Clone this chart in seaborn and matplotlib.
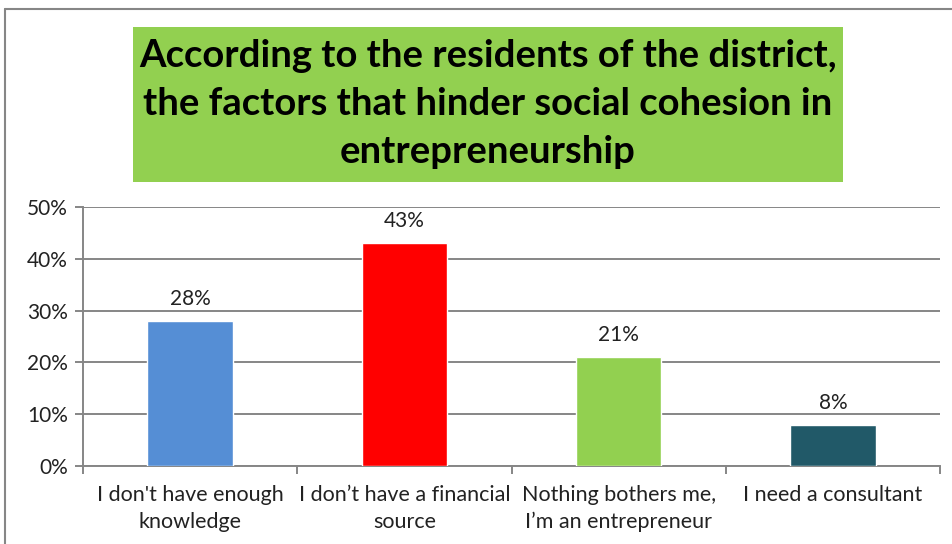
import matplotlib
matplotlib.use("Agg")
import matplotlib.pyplot as plt
from matplotlib.lines import Line2D
from matplotlib.patches import Rectangle
import seaborn as sns
import pandas as pd

categories = [
    "I don't have enough\nknowledge",
    "I don\u2019t have a financial\nsource",
    "Nothing bothers me,\nI\u2019m an entrepreneur",
    "I need a consultant",
]
values = [28, 43, 21, 8]
colors = ["#558ED5", "#FF0000", "#92D050", "#215968"]
yticks = [0, 10, 20, 30, 40, 50]
title = ("According to the residents of the district,\n"
         "the factors that hinder social cohesion in\n"
         "entrepreneurship")

sns.set_theme(style="white")
plt.rcParams["font.family"] = ["Lato", "DejaVu Sans"]

df = pd.DataFrame({"cat": categories, "val": values})

fig = plt.figure(figsize=(9.52, 5.44), dpi=100)
ax = fig.add_axes([83 / 952, 1 - 466 / 544, 857 / 952, 259 / 544])

sns.barplot(data=df, x="cat", y="val", hue="cat", palette=colors,
            width=0.4, legend=False, ax=ax, saturation=1, zorder=3)

grey = "#868686"
text_col = "#222222"
ax.set_xlim(-0.5, len(categories) - 0.5)
ax.set_ylim(0, 50)
ax.set_yticks(yticks)
ax.set_yticklabels([f"{t}%" for t in yticks], fontsize=15, color=text_col)
ax.yaxis.grid(True, color=grey, linewidth=1.4, zorder=0)
ax.set_axisbelow(True)
ax.set_xlabel("")
ax.set_ylabel("")

ax.set_xticks(range(len(categories)))
ax.set_xticklabels(categories, fontsize=15.5, color=text_col, linespacing=1.4)
ax.set_xticks([i - 0.5 for i in range(len(categories) + 1)], minor=True)
ax.tick_params(axis="x", which="major", length=0, pad=14)
ax.tick_params(axis="x", which="minor", length=6, color=grey, width=1.4,
               direction="out", bottom=True)
ax.tick_params(axis="y", length=6, color=grey, width=1.4, direction="out",
               left=True, pad=5)

for side in ("top", "right"):
    ax.spines[side].set_visible(False)
for side in ("left", "bottom"):
    ax.spines[side].set_color(grey)
    ax.spines[side].set_linewidth(1.4)

for i, v in enumerate(values):
    ax.text(i, v + 2.3, f"{v}%", ha="center", va="bottom",
            fontsize=15, color=text_col)

# green title box
fig.patches.append(Rectangle((133 / 952, 1 - 182 / 544), 710 / 952, 155 / 544,
                             transform=fig.transFigure, facecolor="#92D050",
                             edgecolor="none", zorder=1))
fig.text(488 / 952, 1 - 104 / 544, title, ha="center", va="center",
         fontsize=27.5, fontweight="bold", color="black", linespacing=1.5,
         zorder=2)

# outer frame (top and left edges)
fig.add_artist(Line2D([5 / 952, 1], [1 - 9 / 544, 1 - 9 / 544],
                      transform=fig.transFigure, color=grey, linewidth=1.5))
fig.add_artist(Line2D([5 / 952, 5 / 952], [0, 1 - 9 / 544],
                      transform=fig.transFigure, color=grey, linewidth=1.5))

fig.savefig("out.png", dpi=100)
